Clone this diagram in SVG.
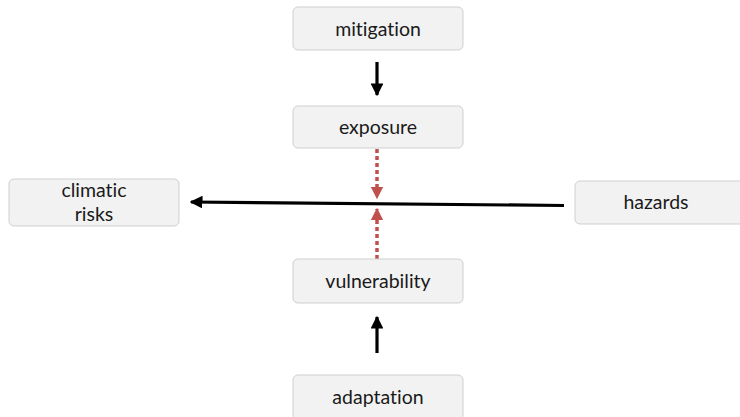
<svg xmlns="http://www.w3.org/2000/svg" width="740" height="417" viewBox="0 0 740 417">
<style>
.box{fill:#f2f2f2;stroke:#cfcfcf;stroke-width:1}
.t{font-family:Lato,"Open Sans","Liberation Sans",sans-serif;font-size:19.5px;fill:#1a1a1a;text-anchor:middle;font-variant-ligatures:none;font-feature-settings:"liga" 0}
.blk{stroke:#000;stroke-width:3.2;fill:none}
.red{stroke:#c0504d;stroke-width:3.5;fill:none;stroke-dasharray:4 3}
</style>
<defs>
<marker id="ab" viewBox="0 0 10 10" refX="9" refY="5" markerWidth="4" markerHeight="4" orient="auto" markerUnits="strokeWidth"><path d="M0,0L10,5L0,10z" fill="#000"/></marker>
<marker id="ar" viewBox="0 0 10 10" refX="9" refY="5" markerWidth="3.6" markerHeight="3.6" orient="auto" markerUnits="strokeWidth"><path d="M0,0L10,5L0,10z" fill="#c0504d"/></marker>
</defs>
<rect width="740" height="417" fill="#fff"/>
<g id="connectors">
<line class="blk" x1="377" y1="62" x2="377" y2="95" marker-end="url(#ab)"/>
<line class="blk" x1="377" y1="353" x2="377" y2="317" marker-end="url(#ab)"/>
<line class="blk" x1="564" y1="205.5" x2="191" y2="202" marker-end="url(#ab)"/>
<line class="red" x1="377" y1="149" x2="377" y2="198" marker-end="url(#ar)"/>
<line class="red" x1="377" y1="259" x2="377" y2="209" marker-end="url(#ar)"/>
</g>
<g id="mitigation"><rect class="box" x="293" y="7" width="170" height="43" rx="5"/><text class="t" x="378" y="36">mitigation</text></g>
<g id="exposure"><rect class="box" x="293" y="106" width="170" height="42" rx="5"/><text class="t" x="378" y="134">exposure</text></g>
<g id="climatic-risks"><rect class="box" x="9" y="179" width="170" height="47" rx="5"/><text class="t" x="94" y="197">climatic</text><text class="t" x="94" y="221">risks</text></g>
<g id="hazards"><rect class="box" x="575" y="181" width="172" height="43" rx="5"/><text class="t" x="656" y="209">hazards</text></g>
<g id="vulnerability"><rect class="box" x="293" y="259" width="170" height="44" rx="5"/><text class="t" x="378" y="288">vulnerability</text></g>
<g id="adaptation"><rect class="box" x="293" y="375" width="170" height="45" rx="5"/><text class="t" x="378" y="404">adaptation</text></g>
</svg>
